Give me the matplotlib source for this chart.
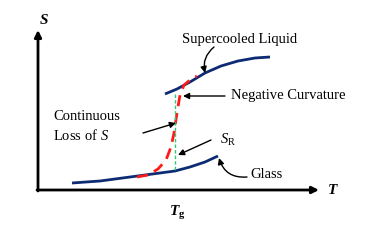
import matplotlib
matplotlib.use('Agg')
import matplotlib.pyplot as plt

# curve points (pixel space, y grows downwards)
glass_x = [72, 100, 130, 160, 175, 190, 205, 218]
glass_y = [183, 181, 177, 173, 171, 167, 162, 156]
liquid_x = [165, 177, 190, 205, 221, 238, 255, 270]
liquid_y = [94, 89, 82, 73, 66, 61, 58, 57]
loss_x = [137, 148, 158, 166, 171, 174, 177, 180, 184, 190, 197]
loss_y = [177, 175, 169, 160, 147, 133, 113, 95, 85, 80, 76]
tg_x = [175, 175]
tg_y = [94, 172]

navy = '#0d2b73'
plt.rcParams['font.family'] = ['Liberation Serif', 'DejaVu Serif']
plt.rcParams['mathtext.fontset'] = 'custom'
plt.rcParams['mathtext.rm'] = 'Liberation Serif'
plt.rcParams['mathtext.it'] = 'Liberation Serif:italic'
plt.rcParams['mathtext.bf'] = 'Liberation Serif:bold'
plt.rcParams['mathtext.bfit'] = 'Liberation Serif:bold:italic'

fig = plt.figure(figsize=(3.76, 2.41), dpi=100)
ax = fig.add_axes([0, 0, 1, 1])
ax.set_xlim(0, 376)
ax.set_ylim(241, 0)
ax.axis('off')

# axes with arrow heads
ax.annotate('', xy=(319, 190), xytext=(37, 190),
            arrowprops=dict(arrowstyle='-|>', lw=2, color='black', mutation_scale=10, shrinkA=0, shrinkB=0))
ax.annotate('', xy=(38, 30), xytext=(38, 191),
            arrowprops=dict(arrowstyle='-|>', lw=2, color='black', mutation_scale=10, shrinkA=0, shrinkB=0))
ax.text(44, 20, 'S', fontsize=11, fontweight='bold', style='italic', ha='center', va='center')
ax.text(333, 191, 'T', fontsize=11, fontweight='bold', style='italic', ha='center', va='center')
ax.text(177, 213, r'$\mathbfit{T}_\mathbf{g}$', fontsize=11, ha='center', va='center')

ax.plot(glass_x, glass_y, color=navy, lw=2, solid_capstyle='butt')
ax.plot(liquid_x, liquid_y, color=navy, lw=2, solid_capstyle='butt')
ax.plot(loss_x, loss_y, color='#ff1a1a', lw=2, dashes=(4, 2.5))
ax.plot(tg_x, tg_y, color='#2ecc71', lw=1, dashes=(2.5, 1.5))

fs = 10.5
ax.text(182, 40, 'Supercooled Liquid', fontsize=fs, va='center')
ax.annotate('', xy=(205, 73), xytext=(214, 47),
            arrowprops=dict(arrowstyle='-|>', lw=1, color='black', mutation_scale=9,
                            connectionstyle='arc3,rad=0.3', shrinkA=0, shrinkB=0))
ax.text(231, 96, 'Negative Curvature', fontsize=fs, va='center')
ax.annotate('', xy=(183, 96), xytext=(225, 96),
            arrowprops=dict(arrowstyle='-|>', lw=1, color='black', mutation_scale=9, shrinkA=0, shrinkB=0))
ax.text(53, 116, 'Continuous', fontsize=fs, va='center')
ax.text(53, 136, r'Loss of $\mathit{S}$', fontsize=fs, va='center')
ax.annotate('', xy=(176, 123), xytext=(143, 133),
            arrowprops=dict(arrowstyle='-|>', lw=1, color='black', mutation_scale=9, shrinkA=0, shrinkB=0))
ax.text(220, 140, r'$S_\mathrm{R}$', fontsize=fs, va='center')
ax.annotate('', xy=(178, 155), xytext=(211, 140),
            arrowprops=dict(arrowstyle='-|>', lw=1, color='black', mutation_scale=9, shrinkA=0, shrinkB=0))
ax.text(250, 175, 'Glass', fontsize=fs, va='center')
ax.annotate('', xy=(219, 158), xytext=(247, 177),
            arrowprops=dict(arrowstyle='-|>', lw=1, color='black', mutation_scale=9,
                            connectionstyle='arc3,rad=-0.4', shrinkA=0, shrinkB=0))

fig.savefig('out.png', dpi=100)
